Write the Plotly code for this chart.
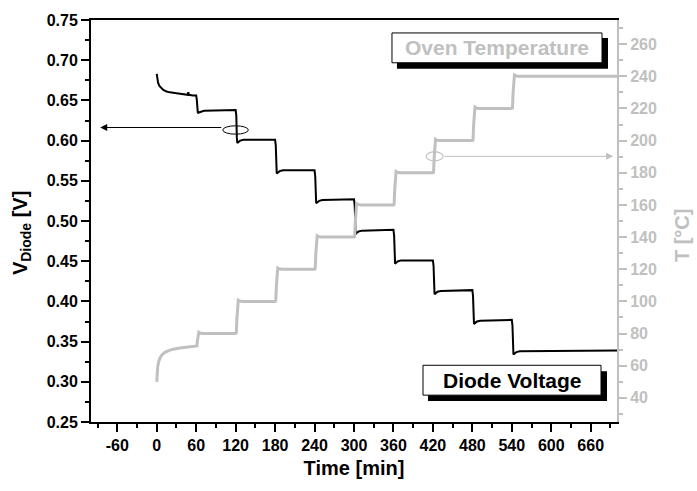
import plotly.graph_objects as go

# ---------------- data ----------------
time_v = [0, 0.5, 2, 4, 7, 10, 15, 20, 30, 40, 47, 48, 49, 55, 60,
          61, 61.8, 62.5, 64, 67, 72, 120,
          121, 121.8, 122.5, 124, 127, 132, 180,
          181, 181.8, 182.5, 184, 187, 192, 240,
          241, 241.8, 242.5, 244, 247, 252, 300,
          301, 301.8, 302.5, 304, 307, 312, 360,
          361, 361.8, 362.5, 364, 367, 372, 420,
          421, 421.8, 422.5, 424, 427, 432, 480,
          481, 481.8, 482.5, 484, 487, 492, 540,
          541, 541.8, 542.5, 544, 547, 552, 700]
volt_v = [0.683, 0.678, 0.672, 0.668, 0.665, 0.663, 0.661, 0.660, 0.659, 0.658, 0.657, 0.660, 0.657, 0.656, 0.656,
          0.650, 0.640, 0.634, 0.635, 0.636, 0.637, 0.638,
          0.631, 0.604, 0.597, 0.598, 0.600, 0.601, 0.601,
          0.594, 0.566, 0.559, 0.560, 0.562, 0.563, 0.563,
          0.556, 0.529, 0.522, 0.523, 0.525, 0.526, 0.527,
          0.520, 0.491, 0.484, 0.485, 0.487, 0.488, 0.489,
          0.482, 0.454, 0.447, 0.448, 0.450, 0.451, 0.451,
          0.444, 0.416, 0.409, 0.410, 0.412, 0.413, 0.414,
          0.407, 0.379, 0.372, 0.373, 0.375, 0.376, 0.377,
          0.370, 0.341, 0.334, 0.335, 0.337, 0.338, 0.339]

time_t = [0, 0.5, 1.5, 3, 5, 8, 12, 18, 25, 35, 45, 60,
          61, 62, 62.8, 64, 66, 70, 120,
          121, 122, 122.8, 124, 126, 130, 180,
          181, 182, 182.8, 184, 186, 190, 240,
          241, 242, 242.8, 244, 246, 250, 300,
          301, 302, 302.8, 304, 306, 310, 360,
          361, 362, 362.8, 364, 366, 370, 420,
          421, 422, 422.8, 424, 426, 430, 480,
          481, 482, 482.8, 484, 486, 490, 540,
          541, 542, 542.8, 544, 546, 550, 700]
temp_t = [50, 56, 59.5, 62.5, 64.8, 66.8, 68.2, 69.4, 70.3, 71, 71.4, 71.8,
          72.3, 76, 79.8, 80.8, 80.3, 80, 80,
          80.3, 90, 99.5, 100.8, 100.3, 100, 100,
          100.3, 110, 119.5, 120.8, 120.3, 120, 120,
          120.3, 130, 139.5, 140.8, 140.3, 140, 140,
          140.3, 150, 159.5, 160.8, 160.3, 160, 160,
          160.3, 170, 179.5, 180.8, 180.3, 180, 180,
          180.3, 190, 199.5, 200.8, 200.3, 200, 200,
          200.3, 210, 219.5, 220.8, 220.3, 220, 220,
          220.3, 230, 239.5, 240.8, 240.3, 240, 240]

x_tickvals = [-60, 0, 60, 120, 180, 240, 300, 360, 420, 480, 540, 600, 660]
x_ticklabels = ["-60", "0", "60", "120", "180", "240", "300", "360", "420", "480", "540", "600", "660"]

legend_temp = "Oven Temperature"
legend_volt = "Diode Voltage"
title_x = "Time [min]"
title_yl = "V<sub>Diode</sub> [V]"
title_yr = "T [°C]"

GRAY = "#c0c0c0"
FONT = "Liberation Sans"

fig = go.Figure()
fig.add_trace(go.Scatter(x=time_t, y=temp_t, yaxis="y2", mode="lines",
                         line=dict(color=GRAY, width=3), showlegend=False))
fig.add_trace(go.Scatter(x=time_v, y=volt_v, yaxis="y", mode="lines",
                         line=dict(color="black", width=2), showlegend=False))

fig.update_layout(
    width=697, height=491,
    margin=dict(l=91, r=80, t=18, b=69),
    paper_bgcolor="white", plot_bgcolor="white",
    font=dict(family=FONT, color="black"),
    xaxis=dict(range=[-100, 700], tickmode="array", tickvals=x_tickvals, ticktext=x_ticklabels,
               showgrid=False, zeroline=False,
               showline=True, linecolor="black", linewidth=2, mirror=True,
               ticks="outside", ticklen=8, tickwidth=1.5, tickcolor="black",
               minor=dict(tick0=0, dtick=30, ticks="outside", ticklen=4, tickwidth=1.5, tickcolor="black"),
               tickfont=dict(size=16, weight="bold", family=FONT),
               title=dict(text=title_x, font=dict(size=20, weight="bold", family=FONT), standoff=8)),
    yaxis=dict(range=[0.25, 0.75], tick0=0.25, dtick=0.05, tickformat=".2f",
               showgrid=False, zeroline=False,
               showline=True, linecolor="black", linewidth=2,
               ticks="outside", ticklen=8, tickwidth=1.5, tickcolor="black",
               minor=dict(dtick=0.025, ticks="outside", ticklen=4, tickwidth=1.5, tickcolor="black"),
               tickfont=dict(size=16, weight="bold", family=FONT)),
    yaxis2=dict(range=[25, 275], tick0=0, dtick=20, overlaying="y", side="right",
                showgrid=False, zeroline=False,
                showline=True, linecolor=GRAY, linewidth=2,
                ticks="outside", ticklen=8, tickwidth=1.5, tickcolor=GRAY,
                minor=dict(dtick=10, ticks="outside", ticklen=4, tickwidth=1.5, tickcolor=GRAY),
                tickfont=dict(size=16, weight="bold", family=FONT, color=GRAY)),
)

# axis titles for the two y axes
fig.add_annotation(x=-0.133, y=0.47, xref="paper", yref="paper", text="<b>" + title_yl + "</b>",
                   textangle=-90, showarrow=False, xanchor="center", yanchor="middle",
                   font=dict(size=20, family=FONT, color="black"))
fig.add_annotation(x=1.1236, y=0.465, xref="paper", yref="paper", text="<b>" + title_yr + "</b>",
                   textangle=-90, showarrow=False, xanchor="center", yanchor="middle",
                   font=dict(size=20, family=FONT, color=GRAY))

# ellipses marking the curves
fig.add_shape(type="circle", xref="x", yref="y", x0=100.4, x1=139.3, y0=0.608, y1=0.6184,
              line=dict(color="black", width=1))
fig.add_shape(type="circle", xref="x", yref="y2", x0=409.6, x1=435.4, y0=187.4, y1=193.0,
              line=dict(color=GRAY, width=1.2))

# arrows
fig.add_annotation(x=-86, y=0.6163, xref="x", yref="y", ax=100.4, ay=0.6163, axref="x", ayref="y",
                   text="", showarrow=True, arrowhead=2, arrowsize=1.4, arrowwidth=1, arrowcolor="black")
fig.add_annotation(x=694, y=190.2, xref="x", yref="y2", ax=435.4, ay=190.2, axref="x", ayref="y2",
                   text="", showarrow=True, arrowhead=2, arrowsize=1.4, arrowwidth=1, arrowcolor=GRAY)

# legend-like boxes with shadows
fig.add_shape(type="rect", xref="paper", yref="paper", x0=0.5817, x1=0.9829, y0=0.8787, y1=0.9554,
              fillcolor="black", line=dict(width=0), layer="below")
fig.add_shape(type="rect", xref="paper", yref="paper", x0=0.5722, x1=0.9715, y0=0.8936, y1=0.9678,
              fillcolor="white", line=dict(color="black", width=1), layer="below")
fig.add_annotation(x=0.7719, y=0.9307, xref="paper", yref="paper", text="<b>" + legend_temp + "</b>",
                   showarrow=False, xanchor="center", yanchor="middle",
                   font=dict(size=21, family=FONT, color=GRAY))

fig.add_shape(type="rect", xref="paper", yref="paper", x0=0.6407, x1=0.981, y0=0.052, y1=0.1262,
              fillcolor="black", line=dict(width=0), layer="below")
fig.add_shape(type="rect", xref="paper", yref="paper", x0=0.6312, x1=0.9696, y0=0.0668, y1=0.1411,
              fillcolor="white", line=dict(color="black", width=1), layer="below")
fig.add_annotation(x=0.8004, y=0.104, xref="paper", yref="paper", text="<b>" + legend_volt + "</b>",
                   showarrow=False, xanchor="center", yanchor="middle",
                   font=dict(size=21, family=FONT, color="black"))

fig.write_html("out.html")
